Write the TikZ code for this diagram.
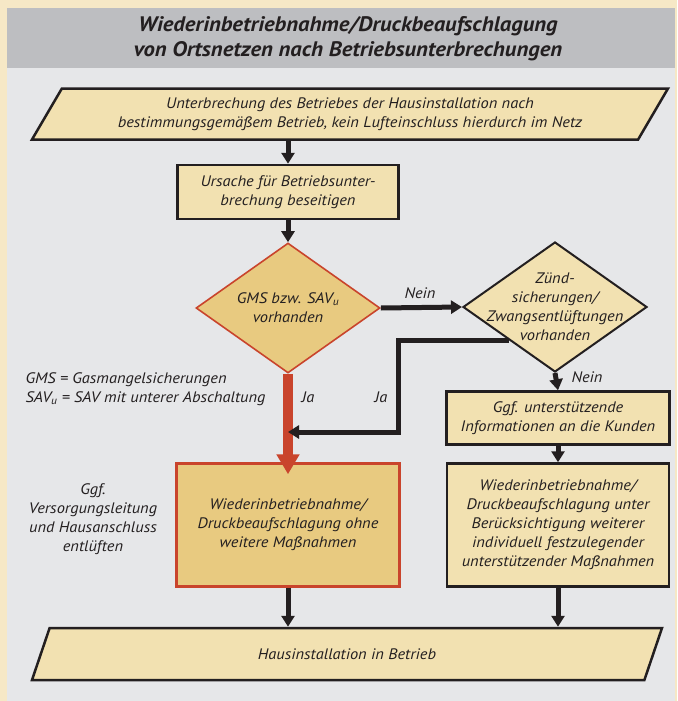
\documentclass[tikz,border=0pt]{standalone}
\usepackage{fontspec}
\setmainfont{PT Sans}[FakeStretch=1.08]
\usetikzlibrary{shapes.geometric,arrows.meta,calc}

\definecolor{creamfill}{HTML}{F2E1B1}
\definecolor{ochrefill}{HTML}{E8CA80}
\definecolor{redline}{HTML}{C9442C}
\definecolor{panelgrey}{HTML}{E6E7E9}
\definecolor{titlegrey}{HTML}{BDBEC1}
\definecolor{outercream}{HTML}{F6E8C6}
\definecolor{darkline}{HTML}{231F20}

\begin{document}
\begin{tikzpicture}[x=1pt,y=-1pt,
		every node/.style={font=\itshape\fontsize{15.2}{19}\selectfont, text=darkline},
		box/.style={draw=darkline, line width=2.5pt, fill=creamfill, align=center, inner sep=2pt},
		slanted/.style={trapezium, trapezium stretches body, draw=darkline, line width=2.5pt, fill=creamfill, align=center},
		decision/.style={diamond, minimum width=184pt, minimum height=130pt, inner sep=0pt},
		flow/.style={darkline, line width=5pt, -{Triangle[width=13pt,length=11pt]}}]
		\useasboundingbox (0,0) rectangle (677,701);
		% the background
		\fill[outercream] (0,0) rectangle (677,701);
		\fill[panelgrey] (7,8) rectangle (675,701);
		\fill[titlegrey] (7,8) rectangle (675,68);
	
		% the title
		\node[font=\bfseries\itshape\fontsize{21}{25}\selectfont, align=center] (title) at (348,39)
			{Wiederinbetriebnahme/Druckbeaufschlagung\\von Ortsnetzen nach Betriebsunterbrechungen};
	
		% the boxes
		\node[slanted, trapezium left angle=53, trapezium right angle=127, minimum width=636pt, minimum height=51pt] (unterbr) at (350,114)
			{Unterbrechung des Betriebes der Hausinstallation nach\\bestimmungsgemäßem Betrieb, kein Lufteinschluss hierdurch im Netz};
		\node[box, minimum width=221pt, minimum height=54pt] (ursache) at (288,192)
			{Ursache für Betriebsunter-\\brechung beseitigen};
		\node[decision, fill=ochrefill, draw=redline, line width=1.6pt,
			label={[align=center]center:GMS bzw. SAV\textsubscript{u}\\vorhanden}] (gms) at (288,308) {};
		\node[decision, fill=creamfill, draw=darkline, line width=2pt,
			label={[align=center]center:Zünd-\\sicherungen/\\Zwangsentlüftungen\\vorhanden}] (zuend) at (555,307) {};
		\node[box, minimum width=223pt, minimum height=53pt] (info) at (558,418)
			{Ggf. unterstützende\\Informationen an die Kunden};
		\node[box, fill=ochrefill, draw=redline, minimum width=223pt, minimum height=123pt] (ohne) at (288,525)
			{Wiederinbetriebnahme/\\Druckbeaufschlagung ohne\\weitere Maßnahmen};
		\node[box, minimum width=222pt, minimum height=123pt] (unter) at (558,525)
			{Wiederinbetriebnahme/\\Druckbeaufschlagung unter\\Berücksichtigung weiterer\\individuell festzulegender\\unterstützender Maßnahmen};
		\node[slanted, trapezium left angle=45, trapezium right angle=135, minimum width=630pt, minimum height=52pt] (betrieb) at (347,654)
			{Hausinstallation in Betrieb};
	
		% the texts
		\node[anchor=west, align=left] (legend) at (22,389)
			{GMS = Gasmangelsicherungen\\SAV\textsubscript{u} = SAV mit unterer Abschaltung};
		\node[align=center] (entlueften) at (93,519)
			{Ggf.\\Versorgungsleitung\\und Hausanschluss\\entlüften};
		\node (nein1) at (420,293) {Nein};
		\node (nein2) at (587,377) {Nein};
		\node (ja1) at (308,397) {Ja};
		\node (ja2) at (381,397) {Ja};
	
		% draw the arrows
		\coordinate (bend) at (398,432);
		\draw[flow] (unterbr.south -| ursache.north) -- (ursache.north);
		\draw[flow] (ursache) -- (gms.north);
		\draw[flow] (gms.east) -- (zuend.west);
		\draw[redline, line width=10pt, -{Triangle[width=22pt,length=20pt]}] (gms.south) -- ([yshift=-12pt]ohne.north);
		\draw[flow, line join=miter] ($(zuend.west)!0.5!(zuend.south)$) -| (bend) -- (bend -| gms.south);
		\draw[flow] (zuend.south) -- (info.north);
		\draw[flow] (info) -- (unter.north);
		\draw[flow] (ohne) -- (ohne.south |- betrieb.north);
		\draw[flow] (unter) -- (unter.south |- betrieb.north);
	
	\end{tikzpicture}
\end{document}
